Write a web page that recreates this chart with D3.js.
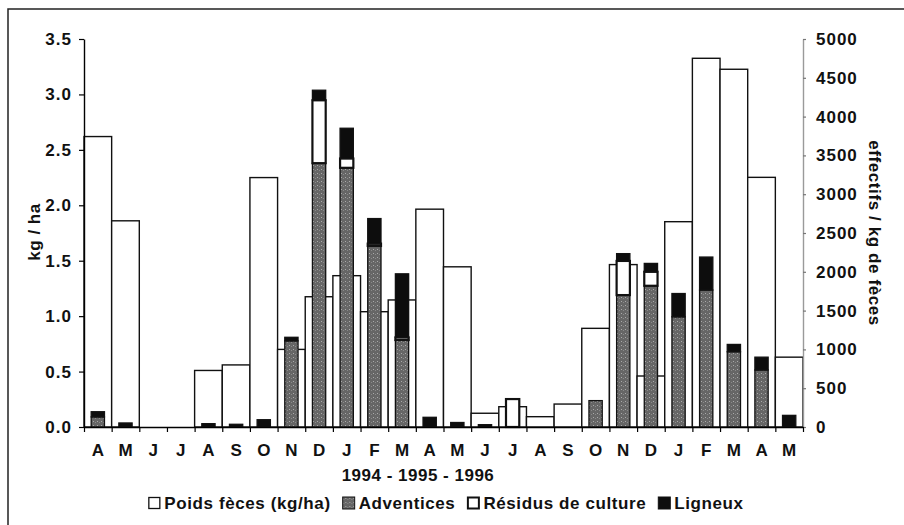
<!DOCTYPE html>
<html>
<head>
<meta charset="utf-8">
<script src="https://cdn.jsdelivr.net/npm/d3@7"></script>
<style>
    body { margin: 0; background: #fff; }
    .chart text { font-family: 'Liberation Sans', Arial, sans-serif; font-weight: bold; fill: #111; }
</style>
</head>
<body>
<div class="chart"></div>
<script>
// months, April 1994 -> May 1996
const months = ['A', 'M', 'J', 'J', 'A', 'S', 'O', 'N', 'D', 'J', 'F', 'M', 'A',
    'M', 'J', 'J', 'A', 'S', 'O', 'N', 'D', 'J', 'F', 'M', 'A', 'M']
// kg / ha (left axis)
const poids = [2.62, 1.86, 0, 0, 0.51, 0.56, 2.25, 0.70, 1.175, 1.365, 1.04, 1.146, 1.965,
    1.445, 0.124, 0.183, 0.093, 0.207, 0.89, 1.465, 0.46, 1.852, 3.326, 3.227, 2.252, 0.63]
// effectifs / kg de feces (right axis), stacked
const adventices = [130, 0, 0, 0, 0, 0, 0, 1110, 3400, 3340, 2333, 1121, 0,
    0, 0, 0, 0, 0, 340, 1700, 1820, 1420, 1765, 970, 735, 0]
const residus = [0, 0, 0, 0, 0, 0, 0, 0, 810, 120, 30, 33, 0,
    0, 0, 360, 0, 0, 0, 440, 180, 0, 0, 0, 0, 0]
const ligneux = [67, 52, 0, 0, 43, 35, 94, 46, 130, 390, 323, 820, 125,
    58, 30, 0, 0, 0, 0, 94, 108, 300, 425, 94, 165, 150]
const leftTicks = [0, 0.5, 1, 1.5, 2, 2.5, 3, 3.5]
const rightTicks = [0, 500, 1000, 1500, 2000, 2500, 3000, 3500, 4000, 4500, 5000]
const yearLabel = '1994 - 1995 - 1996'
const legendItems = [
    { key: 'poids', label: 'Poids fèces (kg/ha)' },
    { key: 'adv', label: 'Adventices' },
    { key: 'res', label: 'Résidus de culture' },
    { key: 'lig', label: 'Ligneux' }
]

class FecesChart {

    constructor(options) {
        this.fullWidth = options.width || 904
        this.fullHeight = options.height || 525
        this.left = 84
        this.right = 803
        this.top = 39
        this.bottom = 427
        this.fontSize = '17px'
        this.rows = months.map((m, i) => ({ i: i, adv: adventices[i], res: residus[i], lig: ligneux[i] }))
    }

    render() {
        this.svg = this.createCanvas()
        this.prepareScales()
        this.createFeces()
        this.createStacks()
        this.createAxes()
        this.createTitles()
        this.createLegend()
    }

    createCanvas() {
        let svg = d3.select('.chart').append('svg')
            .attr('width', this.fullWidth)
            .attr('height', this.fullHeight)
        let defs = svg.append('defs')
        let pat = defs.append('pattern')
            .attr('id', 'adv')
            .attr('width', 4).attr('height', 4)
            .attr('patternUnits', 'userSpaceOnUse')
        pat.append('rect').attr('width', 4).attr('height', 4).attr('fill', '#666')
        pat.append('rect').attr('x', 1).attr('y', 1).attr('width', 1).attr('height', 1).attr('fill', '#aaa')
        pat.append('rect').attr('x', 3).attr('y', 2).attr('width', 1).attr('height', 1).attr('fill', '#8a8a8a')
        // scanned frame, only top and left edges visible
        svg.append('path')
            .attr('d', `M8,${this.fullHeight} V9 H${this.fullWidth}`)
            .attr('fill', 'none').attr('stroke', '#222').attr('stroke-width', 1.5)
        return svg
    }

    prepareScales() {
        this.x = d3.scaleBand()
            .domain(d3.range(months.length))
            .range([this.left, this.right])
            .padding(0)
        this.xEdge = d3.scaleLinear()
            .domain([0, months.length])
            .range([this.left, this.right])
        this.yLeft = d3.scaleLinear().domain([0, 3.5]).range([this.bottom, this.top])
        this.yRight = d3.scaleLinear().domain([0, 5000]).range([this.bottom, this.top])
    }

    createFeces() {
        this.svg.append('g').selectAll('rect')
            .data(poids.map((v, i) => ({ i: i, v: v })).filter(d => d.v > 0))
            .enter().append('rect')
            .attr('x', d => this.x(d.i))
            .attr('y', d => this.yLeft(d.v))
            .attr('width', this.x.bandwidth())
            .attr('height', d => this.yLeft(0) - this.yLeft(d.v))
            .attr('fill', '#fff')
            .attr('stroke', '#111')
            .attr('stroke-width', 1.4)
    }

    createStacks() {
        let series = d3.stack().keys(['adv', 'res', 'lig'])(this.rows)
        let fills = { adv: 'url(#adv)', res: '#fff', lig: '#0d0d0d' }
        let w = this.x.bandwidth() * 0.48
        this.svg.append('g').selectAll('g')
            .data(series)
            .enter().append('g')
            .attr('fill', s => fills[s.key])
            .attr('stroke-width', s => s.key === 'res' ? 2.2 : 1.3)
            .selectAll('rect')
            .data(s => s.filter(d => d[1] - d[0] > 0))
            .enter().append('rect')
            .attr('x', d => this.x(d.data.i) + (this.x.bandwidth() - w) / 2)
            .attr('y', d => this.yRight(d[1]))
            .attr('width', w)
            .attr('height', d => this.yRight(d[0]) - this.yRight(d[1]))
            .attr('stroke', '#111')
    }

    createAxes() {
        let gl = this.svg.append('g')
            .attr('transform', `translate(${this.left},0)`)
            .call(d3.axisLeft(this.yLeft).tickValues(leftTicks)
                .tickFormat(d3.format('.1f')).tickSize(5).tickPadding(7).tickSizeOuter(0))
        let gr = this.svg.append('g')
            .attr('transform', `translate(${this.right},0)`)
            .call(d3.axisRight(this.yRight).tickValues(rightTicks)
                .tickFormat(d3.format('d')).tickSize(3).tickPadding(10).tickSizeOuter(0))
        gr.select('.domain').attr('stroke', '#9a9a9a')
        gr.selectAll('.tick line').attr('stroke', '#777')
        // ticks at month boundaries
        let gx = this.svg.append('g')
            .attr('transform', `translate(0,${this.bottom})`)
            .call(d3.axisBottom(this.xEdge).tickValues(d3.range(months.length + 1))
                .tickFormat('').tickSize(5).tickSizeOuter(0))
        let gm = this.svg.append('g')
            .attr('transform', `translate(0,${this.bottom})`)
            .call(d3.axisBottom(this.x).tickFormat(i => months[i]).tickSize(0).tickPadding(17))
        gm.select('.domain').remove()
        this.svg.selectAll('.domain').attr('stroke-width', 1.4)
        this.svg.selectAll('.tick line').attr('stroke-width', 1.2)
        this.svg.selectAll('.tick text')
            .style('font-size', this.fontSize)
            .style('font-family', "'Liberation Sans', Arial, sans-serif")
            .style('font-weight', 'bold')
            .attr('fill', '#111')
        gl.selectAll('.tick text').style('letter-spacing', '1px')
        gr.selectAll('.tick text').style('letter-spacing', '1px')
    }

    createTitles() {
        this.svg.append('text')
            .attr('transform', 'translate(40,232) rotate(-90)')
            .attr('text-anchor', 'middle')
            .style('font-size', this.fontSize)
            .style('letter-spacing', '0.5px')
            .text('kg / ha')
        this.svg.append('text')
            .attr('transform', 'translate(869,233) rotate(90)')
            .attr('text-anchor', 'middle')
            .style('font-size', this.fontSize)
            .style('letter-spacing', '0.6px')
            .text('effectifs / kg de fèces')
        this.svg.append('text')
            .attr('x', 418).attr('y', 481)
            .attr('text-anchor', 'middle')
            .style('font-size', this.fontSize)
            .style('letter-spacing', '0.5px')
            .text(yearLabel)
    }

    createLegend() {
        let g = this.svg.append('g')
        let x = 0
        legendItems.forEach((d, k) => {
            if (d.key === 'poids' || d.key === 'res') {
                g.append('rect').attr('x', x + 0.5).attr('y', -11.5).attr('width', 11).attr('height', 11)
                    .attr('fill', '#fff').attr('stroke', '#111').attr('stroke-width', d.key === 'res' ? 2 : 1.3)
            } else {
                g.append('rect').attr('x', x).attr('y', -12).attr('width', 12).attr('height', 12)
                    .attr('fill', d.key === 'adv' ? 'url(#adv)' : '#0d0d0d')
                    .attr('stroke', '#111').attr('stroke-width', 1)
            }
            let t = g.append('text').attr('x', x + 16).attr('y', 0)
                .style('font-size', this.fontSize)
                .style('letter-spacing', '0.6px')
                .text(d.label)
            x += 16 + t.node().getComputedTextLength() + 12
        })
        let total = x - 12
        g.attr('transform', `translate(${446 - total / 2},509)`)
    }
}

new FecesChart({ width: 904, height: 525 }).render()
</script>
</body>
</html>
